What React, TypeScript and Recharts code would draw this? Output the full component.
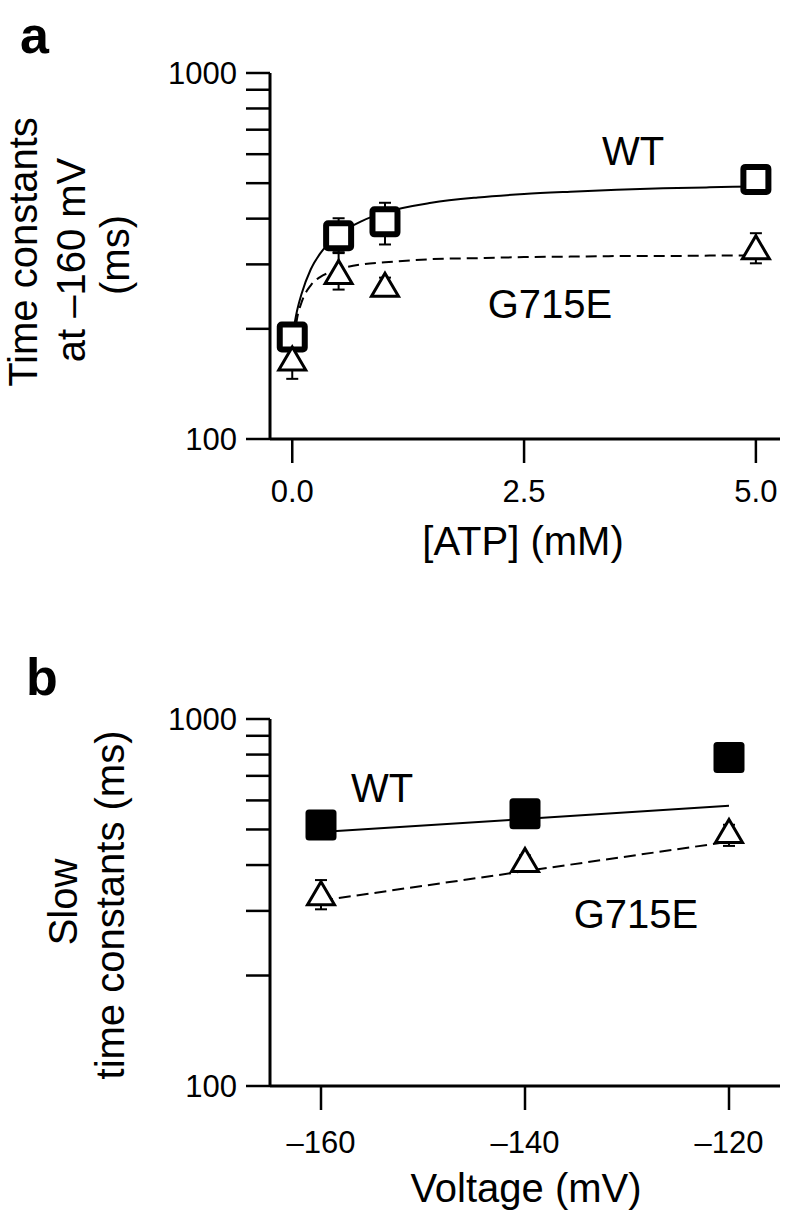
import React from 'react'
import { ComposedChart, Line, Scatter, XAxis, YAxis, ErrorBar } from 'recharts'

const FONT = '"Liberation Sans", Arial, Helvetica, sans-serif'

// panel a: time constants at -160 mV vs [ATP]
const atpMm = [0, 0.5, 1, 5]
const wtTauAtp = [190, 359, 392, 512]
const wtErrAtp = [[10, 12], [35, 42], [52, 50], [14, 14]]
const g715eTauAtp = [166, 286, 264, 334]
const g715eErrAtp = [[20, 10], [30, 36], [12, 12], [32, 31]]

// fitted curves
const atpFitMm = [0, 0.05, 0.1, 0.2, 0.3, 0.4, 0.5, 0.75, 1, 1.5, 2, 2.5, 3, 3.5, 4, 4.5, 5]
const wtFitAtp = [190, 223, 249, 291, 321, 344, 362, 394, 416, 442, 457, 467, 474, 480, 484, 487, 490]
const g715eFitAtp = [166, 212, 236, 263, 277, 285, 291, 300, 304, 310, 312, 314, 315, 316, 316, 317, 317]

const atpTicks = [0, 2.5, 5]

// panel b: slow time constants vs voltage
const voltageMv = [-160, -140, -120]
const wtSlowTau = [514, 552, 785]
const wtSlowErr = [[15, 15], [15, 15], [20, 20]]
const g715eSlowTau = [335, 413, 495]
const g715eSlowErr = [[32, 29], [12, 12], [44, 20]]

const voltFitMv = [-160, -120]
const wtSlowFit = [492, 580]
const g715eSlowFit = [320, 463]

const voltTicks = [-160, -140, -120]

const logTicks = [100, 200, 300, 400, 500, 600, 700, 800, 900, 1000]

const rows = (xs: number[], ys: number[], errs?: number[][]) =>
  xs.map((x, i) => ({ x, y: ys[i], err: errs ? errs[i] : undefined }))

const OpenSquare = (p: any) => (
  <rect x={p.cx - 12.5} y={p.cy - 12.5} width={25} height={25} rx={2}
    fill="#fff" stroke="#000" strokeWidth={6} />
)

const FilledSquare = (p: any) => (
  <rect x={p.cx - 15.5} y={p.cy - 15.5} width={31} height={31} rx={3.5} fill="#000" />
)

const OpenTriangle = (p: any) => (
  <path
    d={`M${p.cx},${p.cy - 11.5} L${p.cx + 13.5},${p.cy + 11.5} L${p.cx - 13.5},${p.cy + 11.5} Z`}
    fill="#fff" stroke="#000" strokeWidth={3} strokeLinejoin="miter" />
)

const YTick = ({ x, y, payload }: any) =>
  payload.value === 100 || payload.value === 1000 ? (
    <text x={x - 7} y={y + 11} textAnchor="end" fontSize={31} fontFamily={FONT} fill="#000">
      {payload.value}
    </text>
  ) : <g />

const makeXTick = (dy: number, fmt: (v: number) => string) => ({ x, y, payload }: any) => (
  <text x={x} y={y + dy} textAnchor="middle" fontSize={31} fontFamily={FONT} fill="#000">
    {fmt(payload.value)}
  </text>
)

const axisLine = { stroke: '#000', strokeWidth: 3 }
const tickLine = { stroke: '#000', strokeWidth: 2.5 }

function PanelA() {
  return (
    <ComposedChart width={785} height={620} margin={{ top: 73, right: 5, bottom: 151, left: 210 }}>
      <XAxis type="number" dataKey="x" domain={[-0.24, 5.26]} ticks={atpTicks} interval={0}
        allowDataOverflow height={30} tickSize={24} axisLine={axisLine} tickLine={tickLine}
        tick={makeXTick(37, v => v.toFixed(1))} />
      <YAxis type="number" dataKey="y" scale="log" domain={[100, 1000]} ticks={logTicks}
        interval={0} allowDataOverflow width={60} tickSize={24} axisLine={axisLine}
        tickLine={tickLine} tick={<YTick />} />
      <Line data={rows(atpFitMm, wtFitAtp)} dataKey="y" type="monotone" stroke="#000"
        strokeWidth={2} dot={false} isAnimationActive={false} />
      <Line data={rows(atpFitMm, g715eFitAtp)} dataKey="y" type="monotone" stroke="#000"
        strokeWidth={2} strokeDasharray="11 6" dot={false} isAnimationActive={false} />
      <Scatter data={rows(atpMm, wtTauAtp, wtErrAtp)} dataKey="y" shape={OpenSquare}
        isAnimationActive={false}>
        <ErrorBar dataKey="err" direction="y" width={6} stroke="#000" strokeWidth={2} />
      </Scatter>
      <Scatter data={rows(atpMm, g715eTauAtp, g715eErrAtp)} dataKey="y" shape={OpenTriangle}
        isAnimationActive={false}>
        <ErrorBar dataKey="err" direction="y" width={6} stroke="#000" strokeWidth={2} />
      </Scatter>
    </ComposedChart>
  )
}

function PanelB() {
  return (
    <ComposedChart width={785} height={580} margin={{ top: 79, right: 5, bottom: 104, left: 210 }}>
      <XAxis type="number" dataKey="x" domain={[-165, -115]} ticks={voltTicks} interval={0}
        allowDataOverflow height={30} tickSize={24} axisLine={axisLine} tickLine={tickLine}
        tick={makeXTick(41, v => (v < 0 ? '\u2013' + Math.abs(v) : String(v)))} />
      <YAxis type="number" dataKey="y" scale="log" domain={[100, 1000]} ticks={logTicks}
        interval={0} allowDataOverflow width={60} tickSize={24} axisLine={axisLine}
        tickLine={tickLine} tick={<YTick />} />
      <Line data={rows(voltFitMv, wtSlowFit)} dataKey="y" type="linear" stroke="#000"
        strokeWidth={2} dot={false} isAnimationActive={false} />
      <Line data={rows(voltFitMv, g715eSlowFit)} dataKey="y" type="linear" stroke="#000"
        strokeWidth={2} strokeDasharray="12 6" dot={false} isAnimationActive={false} />
      <Scatter data={rows(voltageMv, wtSlowTau, wtSlowErr)} dataKey="y" shape={FilledSquare}
        isAnimationActive={false}>
        <ErrorBar dataKey="err" direction="y" width={6} stroke="#000" strokeWidth={2} />
      </Scatter>
      <Scatter data={rows(voltageMv, g715eSlowTau, g715eSlowErr)} dataKey="y" shape={OpenTriangle}
        isAnimationActive={false}>
        <ErrorBar dataKey="err" direction="y" width={6} stroke="#000" strokeWidth={2} />
      </Scatter>
    </ComposedChart>
  )
}

const txt = { fontFamily: FONT, fill: '#000' }

export default function App() {
  return (
    <div style={{ position: 'absolute', left: 0, top: 0, width: 785, height: 1220, background: '#fff' }}>
      <div style={{ position: 'absolute', left: 0, top: 0 }}>
        <PanelA />
      </div>
      <div style={{ position: 'absolute', left: 0, top: 640 }}>
        <PanelB />
      </div>
      <svg width={785} height={1220} style={{ position: 'absolute', left: 0, top: 0, pointerEvents: 'none' }}>
        <text x={20} y={53} fontSize={52} fontWeight="bold" {...txt}>a</text>
        <text x={26} y={695} fontSize={52} fontWeight="bold" {...txt}>b</text>

        <g fontSize={40} textAnchor="middle" {...txt}>
          <text x={37} y={252} transform="rotate(-90, 37, 252)">Time constants</text>
          <text x={85} y={260} transform="rotate(-90, 85, 260)">at {'\u2013'}160 mV</text>
          <text x={129} y={255} transform="rotate(-90, 129, 255)">(ms)</text>
          <text x={77} y={902} transform="rotate(-90, 77, 902)">Slow</text>
          <text x={124} y={905} transform="rotate(-90, 124, 905)">time constants (ms)</text>

          <text x={523} y={555}>[ATP] (mM)</text>
          <text x={526} y={1202}>Voltage (mV)</text>

          <text x={633} y={165}>WT</text>
          <text x={550} y={318}>G715E</text>
          <text x={382} y={802}>WT</text>
          <text x={636} y={928}>G715E</text>
        </g>
      </svg>
    </div>
  )
}
